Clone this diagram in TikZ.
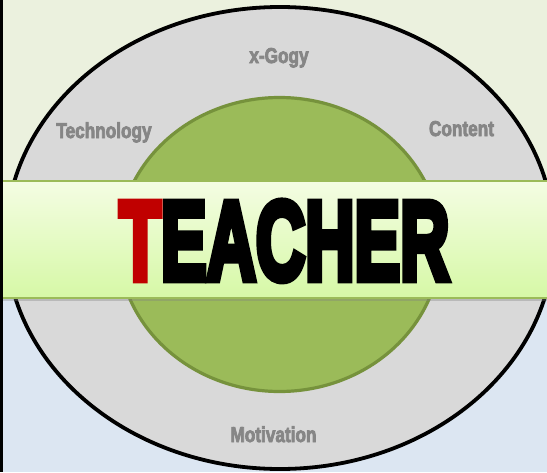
\documentclass[tikz,border=0pt]{standalone}
\usepackage{fontspec}
\usetikzlibrary{shapes.geometric,shadows}
\newfontfamily\impactfont[FakeBold=4]{Liberation Sans}
\newfontfamily\heavyfont[FakeBold=7]{Liberation Sans}
\definecolor{topbg}{HTML}{EBF1DE}
\definecolor{bottombg}{HTML}{DCE6F2}
\definecolor{ringgray}{HTML}{D9D9D9}
\definecolor{coregreen}{HTML}{9BBB59}
\definecolor{coreline}{HTML}{76923C}
\definecolor{labelgray}{HTML}{868686}
\definecolor{bannertop}{HTML}{F4FDE3}
\definecolor{bannerbottom}{HTML}{D6F8A6}
\definecolor{teacherred}{HTML}{C00000}
\newcommand{\narrowtext}[1]{\scalebox{0.8}[1]{#1}}
\tikzset{
  ringlabel/.style={anchor=base, inner sep=0, outer sep=0, text=labelgray, font=\impactfont\bfseries\fontsize{21.5}{21.5}\selectfont}
}
\begin{document}
\begin{tikzpicture}[x=1pt, y=-1pt]
        \useasboundingbox (0,0) rectangle (547,472);
        \clip (0,0) rectangle (547,472);

        % background halves
        \fill[topbg] (0,0) rectangle (547,240);
        \fill[bottombg] (0,240) rectangle (547,472);

        \node[ellipse, draw=black, line width=3.8pt, fill=ringgray, inner sep=0, outer sep=0, minimum width=548, minimum height=462] (ring) at (280,238) {};

        \node[ellipse, draw=coreline, line width=3.2pt, fill=coregreen, inner sep=0, outer sep=0, minimum width=322, minimum height=294] (core) at (279.5,244.5) {};

        \node[ringlabel] (xgogy) at (279,63) {\narrowtext{x-Gogy}};
        \node[ringlabel] (technology) at (104,138) {\narrowtext{Technology}};
        \node[ringlabel] (content) at (461.5,136) {\narrowtext{Content}};
        \node[ringlabel] (motivation) at (273.5,442) {\narrowtext{Motivation}};

        \node[rectangle, draw=coregreen, line width=1.2pt, top color=bannertop, bottom color=bannerbottom, inner sep=0, outer sep=0, minimum width=548, minimum height=117, drop shadow={shadow xshift=0pt, shadow yshift=-2.5pt, opacity=0.35}] (banner) at (275,239.5) {};

        \node[anchor=south, inner sep=0, outer sep=0] (title) at (284.4,280.5) {\resizebox{330pt}{78pt}{\heavyfont\bfseries{\color{teacherred}T}EACHER}};

        % left edge
        \draw[line width=2.5pt] (1.25,0) -- (1.25,472);
      \end{tikzpicture}
\end{document}
